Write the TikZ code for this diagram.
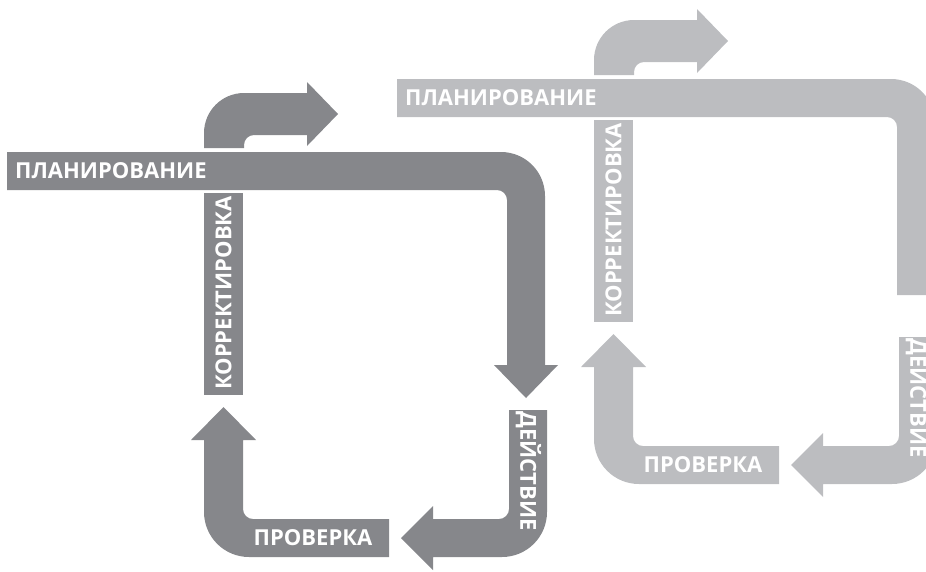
\documentclass[tikz,border=0pt]{standalone}
\usepackage{fontspec}
\setmainfont{Open Sans}
\usepackage{xcolor}
\definecolor{darkgrey}{RGB}{134,135,139}
\definecolor{lightgrey}{RGB}{188,189,192}
\tikzset{
  steptext/.style={text=white,font=\bfseries\fontsize{22}{22}\selectfont,
    inner sep=0pt,text height=15.5pt,text depth=0pt},
}
% one plan-do-check-act cycle, #1 colour, #2 suffix of the node names
\newcommand{\pdcacycle}[2]{%
  \fill[#1] (7,152) -- (501,152) arc[start angle=270,end angle=360,radius=44]
    -- (545,368) -- (507,368) -- (507,200) arc[start angle=0,end angle=-90,radius=10]
    -- (7,190) -- cycle;
  \fill[#1] (509,410) -- (547,410) -- (547,512) arc[start angle=0,end angle=90,radius=45]
    -- (433,557) -- (433,570) -- (401,538) -- (433,506) -- (433,519)
    -- (499,519) arc[start angle=90,end angle=0,radius=10] -- cycle;
  \fill[#1] (389,519) -- (389,557) -- (249,557) arc[start angle=90,end angle=180,radius=45]
    -- (204,440) -- (191,440) -- (223.5,407) -- (256,440) -- (243,440)
    -- (243,509) arc[start angle=180,end angle=90,radius=10] -- cycle;
  \fill[#1] (204,193) rectangle (243,395);
  \fill[#1] (204,148) -- (204,133) arc[start angle=180,end angle=270,radius=40]
    -- (307,93) -- (307,82) -- (338,114) -- (307,146) -- (307,135)
    -- (254,135) arc[start angle=270,end angle=180,radius=10] -- (244,148) -- cycle;
  \node[steptext,anchor=west] (plan#2) at (15,171) {ПЛАНИРОВАНИЕ};
  \node[steptext,rotate=90] (korr#2) at (223.5,293) {КОРРЕКТИРОВКА};
  \node[steptext,rotate=-90] (dejs#2) at (528,471) {ДЕЙСТВИЕ};
  \node[steptext] (prov#2) at (313,538) {ПРОВЕРКА};
}

\begin{document}
\begin{tikzpicture}[x=1pt,y=-1pt]
\useasboundingbox (0,0) rectangle (926,571);
\clip (0,0) rectangle (926,571);

\begin{scope}[shift={(390,-73)}]
  \pdcacycle{lightgrey}{l}
\end{scope}
\pdcacycle{darkgrey}{d}
% head of the dark down arrow
\fill[darkgrey] (494,365) -- (558,365) -- (526,398) -- cycle;
\end{tikzpicture}
\end{document}
